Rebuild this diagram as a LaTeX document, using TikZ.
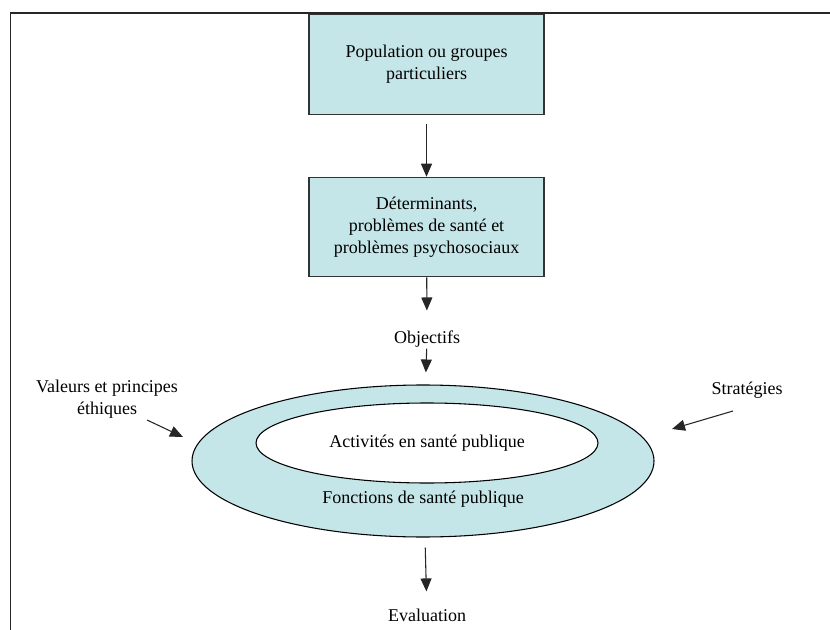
\documentclass[tikz,border=0pt]{standalone}
\usepackage{fontspec}
\setmainfont{Liberation Serif}
\usetikzlibrary{arrows.meta,shapes.geometric}
\definecolor{turquoise}{RGB}{197,230,232}
\tikzset{
  boite/.style={draw=black!80,line width=0.9pt,fill=turquoise,minimum width=176.25pt,minimum height=74.5pt,align=center,inner sep=0pt},
  anneau/.style={ellipse,draw,line width=0.8pt,inner sep=0pt},
  texte/.style={inner sep=0pt,align=center},
  fleche/.style={-{Triangle[length=9.75pt,width=8.25pt]},line width=0.8pt,black!85},
  cadre/.style={line width=1.2pt,black!85},
}

\begin{document}
\begin{tikzpicture}[x=0.75pt,y=-0.75pt,font=\fontsize{13.5}{16.5}\selectfont]
\useasboundingbox (0,0) rectangle (830,630);
%\draw[step=50,gray,very thin] (0,0) grid (830,630); %background grid
\draw[cadre] (10.5,630) -- (10.5,13) -- (830,13);
\node[boite] (pop) at (426.5,64.5) {Population ou groupes\\particuliers};
\node[boite] (det) at (426.5,227) {Déterminants,\\problèmes de santé et\\problèmes psychosociaux};
\node[texte] (obj) at (427,339) {Objectifs};
\node[anneau,fill=turquoise,minimum width=346.5pt,minimum height=114pt] (fonc) at (423,461) {};
\node[anneau,fill=white,minimum width=256.5pt,minimum height=60pt] (act) at (427,443) {Activités en santé publique};
\node[texte] (foncl) at (423,499) {Fonctions de santé publique};
\node[texte] (eval) at (427,615) {Evaluation};
\node[texte] (val) at (107,399) {Valeurs et principes\\éthiques};
\node[texte] (strat) at (747,390) {Stratégies};
\coordinate (v0) at (147,420);
\coordinate (v1) at (183,437);
\coordinate (s0) at (733,411);
\coordinate (s1) at (672,429);
\draw[fleche,shorten <=6.75pt] (pop) -- (det);
\draw[fleche,shorten >=15pt] (det) -- (obj);
\draw[fleche,shorten <=0.75pt,shorten >=9pt] (obj) -- (fonc);
\draw[fleche,shorten <=7.5pt,shorten >=12.75pt] (fonc) -- (eval);
\draw[fleche] (v0) -- (v1);
\draw[fleche] (s0) -- (s1);
\end{tikzpicture}
\end{document}
